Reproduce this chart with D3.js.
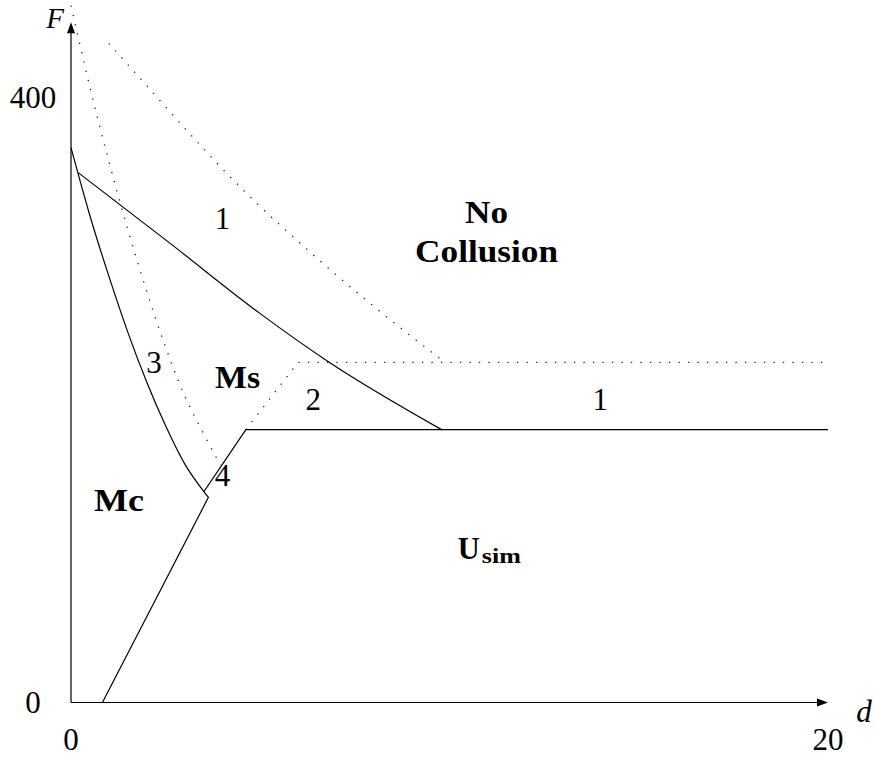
<!DOCTYPE html>
<html>
<head>
<meta charset="utf-8">
<script src="https://cdn.jsdelivr.net/npm/d3@7"></script>
<style>
  html, body { margin: 0; padding: 0; background: #fff; }
  svg { display: block; }
  text { font-family: "Liberation Serif", "Times New Roman", serif; fill: #000; }
</style>
</head>
<body>
<svg id="chart" width="874" height="757"></svg>
<script>
// Axis ticks
const xTicks = [0, 20];
const yTicks = [0, 400];
const xAxisEnd = 20;
const yAxisEnd = 450;

// Solid boundaries (d, F)
const curveThree = [[0, 367], [0.5, 322], [1.0, 282], [1.5, 245], [2.0, 212], [2.5, 183], [3.0, 158], [3.51, 139.5]];
const curveOne = [[0.19, 350.5], [2.62, 303.7], [4.99, 257.4], [6.80, 225.4], [9.79, 180.5]];
const lowerBoundary = [[0.83, 0], [3.63, 135.7], [3.51, 139.5], [4.62, 180.5], [20, 180.5]];

// Dotted boundaries (d, F)
const dottedA = [[0, 461], [0.5, 407], [1.0, 358], [1.5, 313], [2.0, 272], [2.5, 235], [3.0, 203], [3.5, 178], [3.95, 157]];
const dottedB = [[1.0, 436], [2.0, 408], [3.0, 380], [4.0, 353], [5.0, 328], [6.0, 305], [7.0, 283], [8.0, 262], [9.0, 242], [9.88, 225]];
const dottedRidge = [[4.62, 180.5], [6.0, 225], [20, 225]];

// Region labels
const regionLabels = [
  { text: "1", d: 4.0, F: 313.2, bold: false },
  { text: "No", d: 10.98, F: 317.4, bold: true, len: 43 },
  { text: "Collusion", d: 10.98, F: 291.6, bold: true, len: 143 },
  { text: "3", d: 2.19, F: 218.2, bold: false },
  { text: "Ms", d: 4.40, F: 207.8, bold: true, len: 45 },
  { text: "2", d: 6.40, F: 193.5, bold: false },
  { text: "1", d: 13.98, F: 193.5, bold: false },
  { text: "4", d: 4.0, F: 143.2, bold: false },
  { text: "Mc", d: 1.27, F: 126.6, bold: true, len: 50 }
];

const svg = d3.select("#chart");
const x = d3.scaleLinear().domain([0, 20]).range([71, 828]);
const y = d3.scaleLinear().domain([0, 400]).range([702.5, 97.8]);

const smooth = d3.line().x(p => x(p[0])).y(p => y(p[1])).curve(d3.curveMonotoneX);
const straight = d3.line().x(p => x(p[0])).y(p => y(p[1]));

// Dotted curves
const dotted = svg.append("g")
  .attr("fill", "none").attr("stroke", "#222").attr("stroke-width", 1.3)
  .attr("stroke-dasharray", "1.3,8.2");
dotted.append("path").attr("d", smooth(dottedA));
dotted.append("path").attr("d", smooth(dottedB));
dotted.append("path").attr("d", straight(dottedRidge));

// Solid curves
const solid = svg.append("g")
  .attr("fill", "none").attr("stroke", "#000").attr("stroke-width", 1.2)
  .attr("stroke-linejoin", "miter");
solid.append("path").attr("d", smooth(curveThree));
solid.append("path").attr("d", smooth(curveOne));
solid.append("path").attr("d", straight(lowerBoundary));

// Axes with arrowheads
const axes = svg.append("g");
const x0 = x(0), y0 = y(0), xe = x(xAxisEnd), ye = y(yAxisEnd);
axes.append("line").attr("x1", x0).attr("y1", y0).attr("x2", xe - 6).attr("y2", y0)
  .attr("stroke", "#000").attr("stroke-width", 1.2);
axes.append("line").attr("x1", x0).attr("y1", y0).attr("x2", x0).attr("y2", ye + 6)
  .attr("stroke", "#000").attr("stroke-width", 1.2);
axes.append("path")
  .attr("d", `M${xe},${y0} L${xe - 11},${y0 - 4} L${xe - 11},${y0 + 4} Z`).attr("fill", "#000");
axes.append("path")
  .attr("d", `M${x0},${ye} L${x0 - 4},${ye + 11} L${x0 + 4},${ye + 11} Z`).attr("fill", "#000");

// Tick labels
svg.append("g").selectAll("text").data(xTicks).join("text")
  .attr("x", d => x(d)).attr("y", 750).attr("text-anchor", "middle")
  .attr("font-size", 31).text(d => d);
svg.append("g").selectAll("text").data(yTicks).join("text")
  .attr("x", 33).attr("y", d => y(d) + 10.5).attr("text-anchor", "middle")
  .attr("font-size", 31).text(d => d);

// Axis titles
svg.append("text").attr("x", 55).attr("y", 28).attr("text-anchor", "middle")
  .attr("font-size", 29).attr("font-style", "italic").text("F");
svg.append("text").attr("x", 864).attr("y", 722).attr("text-anchor", "middle")
  .attr("font-size", 31).attr("font-style", "italic").text("d");

// Region labels
svg.append("g").selectAll("text").data(regionLabels).join("text")
  .attr("x", l => x(l.d)).attr("y", l => y(l.F)).attr("text-anchor", "middle")
  .attr("font-size", 31).attr("font-weight", l => l.bold ? "bold" : "normal")
  .each(function (l) {
    if (l.len) d3.select(this).attr("textLength", l.len).attr("lengthAdjust", "spacingAndGlyphs");
  })
  .text(l => l.text);

// U_sim label with subscript
const uLabel = svg.append("text").attr("x", x(10.22)).attr("y", y(94.7))
  .attr("font-size", 31).attr("font-weight", "bold");
uLabel.append("tspan").attr("textLength", 22).attr("lengthAdjust", "spacingAndGlyphs").text("U");
uLabel.append("tspan").attr("dx", 2).attr("dy", 4).attr("font-size", 22)
  .attr("textLength", 39).attr("lengthAdjust", "spacingAndGlyphs").text("sim");
</script>
</body>
</html>
